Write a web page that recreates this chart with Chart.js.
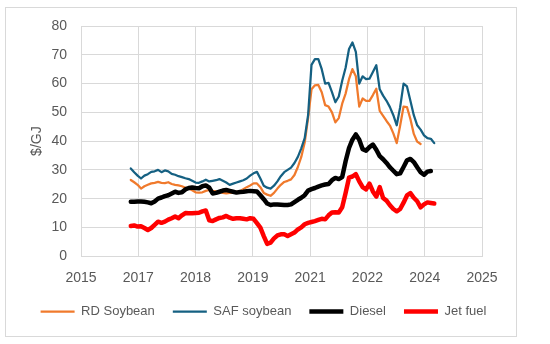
<!DOCTYPE html>
<html>
<head>
<meta charset="utf-8">
<script src="https://cdn.jsdelivr.net/npm/chart.js@4.4.1/dist/chart.umd.min.js"></script>
<style>
  html, body { margin: 0; padding: 0; background: #fff; }
  canvas { display: block; }
</style>
</head>
<body>
<canvas id="chart" width="550" height="344"></canvas>
<script>
// Monthly series, first value is Dec 2016
const firstYear = 2016;
const firstMonth = 12;

const rdSoybean = [
  26.5, 25.7, 24.8, 23.5, 24.3, 24.8, 25.3, 25.5, 25.8, 25.5,
  25.4, 25.7, 25.1, 24.8, 24.6, 24.3, 23.8, 23.5, 22.9, 22.2,
  22.1, 22.2, 22.7, 23.0, 22.7, 22.5, 22.4, 22.0, 21.8, 22.0,
  22.1, 22.4, 22.6, 23.3, 24.0, 24.6, 25.3, 25.3, 24.0, 22.0,
  21.4, 21.0, 22.0, 23.5, 24.8, 25.8, 26.2, 26.7, 28.2, 31.0,
  34.5, 39.5, 48.0, 58.0, 59.4, 59.5, 57.0, 52.5, 52.0, 50.0,
  46.5, 48.0, 53.0, 56.5, 61.5, 65.0, 62.5, 52.0, 54.8, 54.0,
  54.0, 56.0, 58.2, 50.5, 48.8, 47.0, 45.4, 42.7, 39.3, 45.4,
  52.0, 51.8, 47.7, 42.5, 39.8, 39.0
];

const safSoybean = [
  30.5, 29.2, 28.0, 27.0, 28.0, 28.5, 29.3, 29.5, 30.0, 29.2,
  29.8, 29.5, 28.6, 28.3, 27.8, 27.5, 27.1, 26.8, 26.2, 25.6,
  25.5, 26.0, 26.6, 26.0, 26.2, 26.4, 26.8, 26.2, 25.6, 24.8,
  25.2, 25.6, 26.0, 26.4, 27.0, 28.0, 28.8, 29.3, 27.0, 24.5,
  23.8, 23.5, 24.5, 26.0, 27.8, 29.2, 30.0, 30.8, 32.4, 34.5,
  37.5, 41.0, 49.0, 66.5, 68.5, 68.5, 65.0, 60.0, 60.2, 57.0,
  53.5, 55.5, 61.0, 65.5, 72.0, 74.3, 71.0, 60.0, 62.5, 61.5,
  61.7, 64.0, 66.4, 58.0, 55.8, 54.0, 51.8, 49.0, 45.5, 51.8,
  60.0, 59.0, 54.0, 49.0, 45.5, 44.0, 42.0, 41.0, 40.8, 39.3
];

const diesel = [
  18.9, 18.9, 19.0, 19.0, 18.9, 18.7, 18.4, 19.0, 20.0, 20.4,
  20.9, 21.2, 21.8, 22.4, 22.0, 22.2, 23.2, 23.7, 23.9, 23.7,
  23.6, 24.3, 24.6, 23.8, 21.8, 22.0, 22.4, 22.8, 23.0, 22.7,
  22.4, 22.1, 22.3, 22.4, 22.6, 22.7, 22.6, 22.5, 21.2, 19.8,
  18.3, 17.8, 18.0, 18.0, 17.9, 17.8, 17.8, 18.0, 18.8, 19.6,
  20.3, 21.2, 22.8, 23.3, 23.7, 24.2, 24.6, 24.9, 25.1, 26.4,
  27.2, 26.8, 27.5, 33.0, 37.6, 40.5, 42.3, 40.5, 37.2, 36.7,
  37.9, 38.8, 37.0, 34.8, 33.7, 32.4, 30.9, 29.7, 28.5, 28.8,
  31.0, 33.3, 33.8, 32.7, 30.9, 29.2, 28.3, 29.4, 29.6
];

const jetFuel = [
  10.5, 10.7, 10.3, 10.4, 9.8, 9.1, 9.8, 10.9, 12.0, 11.6,
  12.0, 12.7, 13.2, 13.8, 13.2, 14.2, 15.0, 14.9, 14.9, 15.0,
  15.1, 15.6, 15.9, 12.5, 12.2, 12.8, 13.3, 13.5, 14.0, 13.4,
  13.0, 13.2, 13.2, 13.0, 12.8, 13.2, 13.0, 11.5, 9.9, 7.0,
  4.3, 4.7, 6.2, 7.2, 7.6, 7.6, 7.0, 7.6, 8.2, 9.3,
  10.0, 11.1, 11.6, 11.9, 12.2, 12.6, 13.0, 12.8, 14.2, 15.2,
  15.3, 15.2, 17.0, 22.0, 27.3, 27.7, 28.5, 26.0, 24.0, 23.2,
  25.2, 22.5, 20.7, 24.0, 20.2, 19.3, 17.7, 16.4, 15.6, 16.4,
  18.6, 21.1, 21.9, 20.3, 19.1, 17.0, 18.0, 18.7, 18.5, 18.3
];

// Date axis as in the original sheet: odd step, year-only labels
const tickLabels = ['2015', '2017', '2018', '2019', '2021', '2022', '2024', '2025'];
const axisMin = 2015.7;
const axisStep = 1.4;
const axisMax = axisMin + axisStep * (tickLabels.length - 1);

const toPoints = values => values.map((v, i) => ({
  x: firstYear + (firstMonth - 1 + i) / 12,
  y: v
}));

const grey = '#595959';
const gridGrey = '#d9d9d9';

Chart.defaults.font.family = "'Liberation Sans', Arial, sans-serif";

// White background and the thin frame around the whole chart
const frame = {
  id: 'frame',
  beforeDraw(chart) {
    const c = chart.ctx;
    c.save();
    c.fillStyle = '#fff';
    c.fillRect(0, 0, chart.width, chart.height);
    c.strokeStyle = gridGrey;
    c.lineWidth = 1;
    c.strokeRect(5.5, 7.5, 511, 329);
    c.restore();
  }
};

const ctx = document.getElementById('chart').getContext('2d');
new Chart(ctx, {
  type: 'line',
  data: {
    datasets: [
      { label: 'RD Soybean', data: toPoints(rdSoybean), borderColor: '#f07a2c', backgroundColor: '#f07a2c', borderWidth: 2.25, order: 4 },
      { label: 'SAF soybean', data: toPoints(safSoybean), borderColor: '#156082', backgroundColor: '#156082', borderWidth: 2.25, order: 3 },
      { label: 'Diesel', data: toPoints(diesel), borderColor: '#000000', backgroundColor: '#000000', borderWidth: 4.5, order: 2 },
      { label: 'Jet fuel', data: toPoints(jetFuel), borderColor: '#ff0000', backgroundColor: '#ff0000', borderWidth: 4.5, order: 1 }
    ]
  },
  options: {
    responsive: false,
    animation: false,
    layout: { padding: { left: 0, right: 23, top: 26, bottom: 16 } },
    elements: {
      point: { radius: 0 },
      line: { tension: 0, borderJoinStyle: 'round', borderCapStyle: 'round' }
    },
    scales: {
      x: {
        type: 'linear',
        min: axisMin,
        max: axisMax,
        afterBuildTicks: axis => {
          axis.ticks = tickLabels.map((_, i) => ({ value: axisMin + i * axisStep }));
        },
        ticks: {
          autoSkip: false,
          maxRotation: 0,
          padding: 14,
          color: grey,
          font: { size: 14 },
          callback: (value, index) => tickLabels[index]
        },
        grid: { color: gridGrey, drawTicks: false },
        border: { color: gridGrey },
        // pull the legend up closer to the year labels
        afterFit: axis => { axis.height -= 14; }
      },
      y: {
        min: 0,
        max: 80,
        ticks: { stepSize: 10, padding: 14, color: grey, font: { size: 14 } },
        grid: { color: gridGrey, drawTicks: false },
        border: { color: gridGrey },
        title: {
          display: true,
          text: '$/GJ',
          color: grey,
          font: { size: 14 },
          padding: { top: 28.6, bottom: 0 }
        },
        afterFit: axis => { axis.width = 81; }
      },
      // empty right-hand axis, only keeps the white margin right of the plot
      spacer: {
        type: 'linear',
        axis: 'y',
        position: 'right',
        ticks: { display: false },
        grid: { display: false },
        border: { display: false },
        afterFit: axis => { axis.width = 45; }
      }
    },
    plugins: {
      tooltip: { enabled: false },
      legend: {
        position: 'bottom',
        labels: {
          usePointStyle: true,
          pointStyle: 'line',
          pointStyleWidth: 34,
          padding: 18,
          color: grey,
          font: { size: 13 },
          sort: (a, b) => a.datasetIndex - b.datasetIndex
        }
      }
    }
  },
  plugins: [frame]
});
</script>
</body>
</html>
